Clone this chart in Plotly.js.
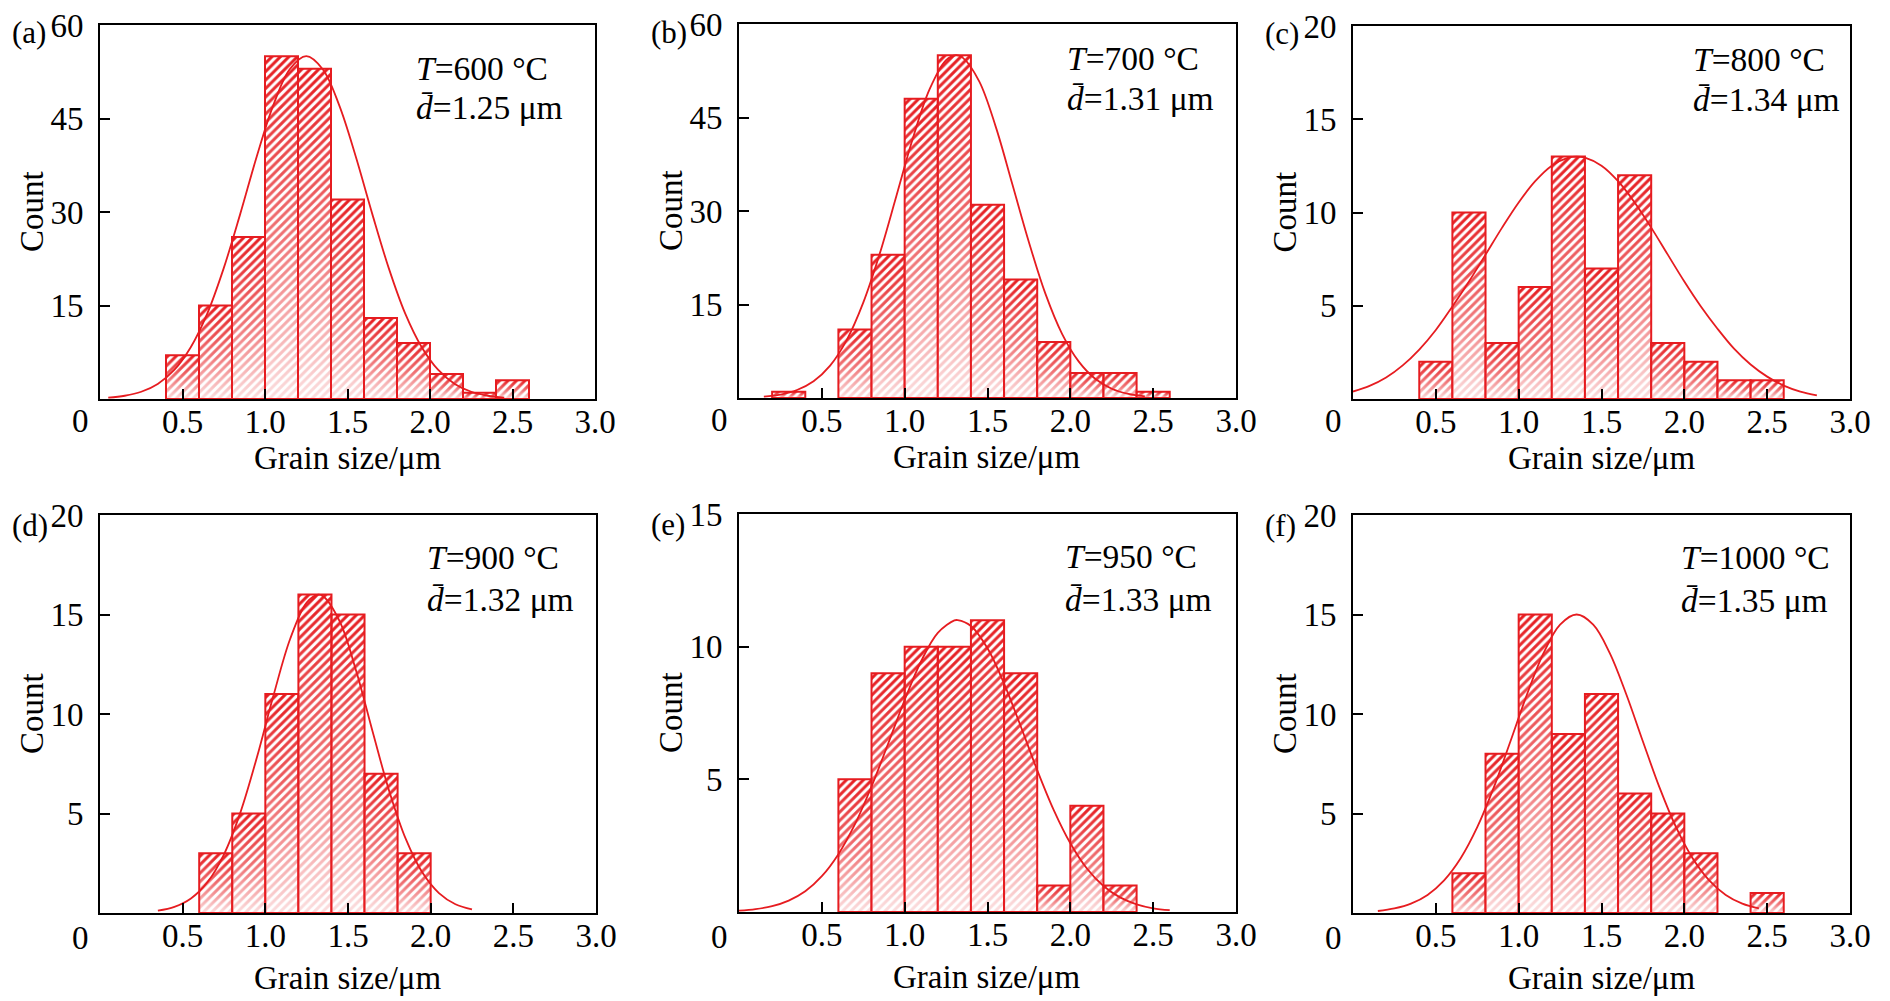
<!DOCTYPE html>
<html>
<head>
<meta charset="utf-8">
<script src="https://cdn.plot.ly/plotly-3.0.1.min.js"></script>
<style>
  html, body { margin: 0; padding: 0; background: #fff; }
  #chart { width: 1890px; height: 1001px; }
</style>
</head>
<body>
<div id="chart"></div>
<script>
// Left edges of the 0.2 um bins (shared by all six panels)
const binStarts = [0.2, 0.4, 0.6, 0.8, 1.0, 1.2, 1.4, 1.6, 1.8, 2.0, 2.2, 2.4];
const binWidth = 0.2;

// Counts per bin
const countsA = [0, 7, 15, 26, 55, 53, 32, 13, 9, 4, 1, 3];
const countsB = [1, 0, 11, 23, 48, 55, 31, 19, 9, 4, 4, 1];
const countsC = [0, 2, 10, 3, 6, 13, 7, 12, 3, 2, 1, 1];
const countsD = [0, 0, 3, 5, 11, 16, 15, 7, 3, 0, 0, 0];
const countsE = [0, 0, 5, 9, 10, 10, 11, 9, 1, 4, 1, 0];
const countsF = [0, 0, 2, 8, 15, 9, 11, 6, 5, 3, 0, 1];

// Fitted distribution curves
const fitXA = [0.05, 0.15, 0.25, 0.35, 0.45, 0.55, 0.65, 0.75, 0.85, 0.95, 1.05, 1.15, 1.25, 1.35, 1.45, 1.55, 1.65, 1.75, 1.85, 1.95, 2.05, 2.15, 2.25, 2.35, 2.45];
const fitYA = [0.21, 0.52, 1.16, 2.42, 4.66, 8.31, 13.7, 21.0, 29.7, 38.9, 47.1, 52.9, 55, 52.9, 47.1, 38.9, 29.7, 21.0, 13.7, 8.31, 4.66, 2.42, 1.16, 0.52, 0.21];
const fitXB = [0.15, 0.25, 0.35, 0.45, 0.55, 0.65, 0.75, 0.85, 0.95, 1.05, 1.15, 1.25, 1.31, 1.35, 1.45, 1.55, 1.65, 1.75, 1.85, 1.95, 2.05, 2.15, 2.25, 2.35, 2.45];
const fitYB = [0.23, 0.56, 1.28, 2.69, 5.2, 9.29, 15.3, 23.2, 32.4, 41.7, 49.5, 54.2, 55, 54.6, 50.8, 43.5, 34.3, 25.0, 16.7, 10.3, 5.88, 3.09, 1.49, 0.66, 0.27];
const fitXC = [0.0, 0.1, 0.2, 0.3, 0.4, 0.5, 0.6, 0.7, 0.8, 0.9, 1.0, 1.1, 1.2, 1.3, 1.35, 1.4, 1.5, 1.6, 1.7, 1.8, 1.9, 2.0, 2.1, 2.2, 2.3, 2.4, 2.5, 2.6, 2.7, 2.8];
const fitYC = [0.4, 0.7, 1.15, 1.8, 2.65, 3.7, 4.96, 6.3, 7.74, 9.19, 10.54, 11.68, 12.51, 12.94, 13, 12.94, 12.51, 11.68, 10.54, 9.19, 7.74, 6.3, 4.96, 3.77, 2.7, 1.85, 1.2, 0.72, 0.4, 0.2];
const fitXD = [0.35, 0.45, 0.55, 0.65, 0.75, 0.85, 0.95, 1.05, 1.15, 1.25, 1.32, 1.35, 1.45, 1.55, 1.65, 1.75, 1.85, 1.95, 2.05, 2.15, 2.25];
const fitYD = [0.12, 0.31, 0.73, 1.55, 2.95, 5.07, 7.85, 10.95, 13.77, 15.6, 16, 15.92, 14.65, 12.15, 9.08, 6.11, 3.71, 2.03, 1.0, 0.44, 0.18];
const fitXE = [0.0, 0.1, 0.2, 0.3, 0.4, 0.5, 0.6, 0.7, 0.8, 0.9, 1.0, 1.1, 1.2, 1.3, 1.32, 1.4, 1.5, 1.6, 1.7, 1.8, 1.9, 2.0, 2.1, 2.2, 2.3, 2.4, 2.5, 2.6];
const fitYE = [0.05, 0.11, 0.22, 0.43, 0.78, 1.35, 2.18, 3.31, 4.73, 6.34, 7.99, 9.46, 10.52, 10.99, 11, 10.78, 9.94, 8.61, 7.01, 5.35, 3.84, 2.59, 1.64, 0.98, 0.55, 0.29, 0.14, 0.07];
const fitXF = [0.15, 0.25, 0.35, 0.45, 0.55, 0.65, 0.75, 0.85, 0.95, 1.05, 1.15, 1.25, 1.35, 1.45, 1.55, 1.65, 1.75, 1.85, 1.95, 2.05, 2.15, 2.25, 2.35, 2.45];
const fitYF = [0.1, 0.23, 0.47, 0.91, 1.64, 2.75, 4.31, 6.31, 8.62, 10.98, 13.06, 14.49, 15, 14.49, 13.06, 10.98, 8.62, 6.31, 4.31, 2.75, 1.64, 0.91, 0.47, 0.23];

// Panel text
const panelLetters = ["(a)", "(b)", "(c)", "(d)", "(e)", "(f)"];
const temperatures = ["600", "700", "800", "900", "950", "1000"];
const meanSizes = ["1.25", "1.31", "1.34", "1.32", "1.33", "1.35"];

// Axis scales and tick labels
const yMax = [60, 60, 20, 20, 15, 20];
const yTicks = [[15, 30, 45, 60], [15, 30, 45, 60], [5, 10, 15, 20], [5, 10, 15, 20], [5, 10, 15], [5, 10, 15, 20]];
const xTickVals = [0.5, 1.0, 1.5, 2.0, 2.5, 3.0];
const xTickText = ["0.5", "1.0", "1.5", "2.0", "2.5", "3.0"];

const allCounts = [countsA, countsB, countsC, countsD, countsE, countsF];
const allFitX = [fitXA, fitXB, fitXC, fitXD, fitXE, fitXF];
const allFitY = [fitYA, fitYB, fitYC, fitYD, fitYE, fitYF];

// Frame of each panel in page pixels
const frames = [
  { l: 100, r: 595, t: 25, b: 399 },
  { l: 739, r: 1236, t: 24, b: 398 },
  { l: 1353, r: 1850, t: 26, b: 399 },
  { l: 100, r: 596, t: 515, b: 913 },
  { l: 739, r: 1236, t: 514, b: 912 },
  { l: 1353, r: 1850, t: 515, b: 913 },
];
const textSpots = [
  { x: 414, y1: 68, y2: 107 },
  { x: 1065, y1: 58, y2: 99 },
  { x: 1691, y1: 59, y2: 100 },
  { x: 425, y1: 557, y2: 599 },
  { x: 1063, y1: 556, y2: 599 },
  { x: 1679, y1: 557, y2: 600 },
];

const W = 1890, H = 1001;
const RED = "rgb(230, 28, 32)";
const FONT = "Liberation Serif, Times New Roman, serif";
const px = (x) => x / W;
const py = (y) => 1 - y / H;

const traces = [];
const layout = {
  width: W,
  height: H,
  margin: { l: 0, r: 0, t: 0, b: 0 },
  paper_bgcolor: "#fff",
  plot_bgcolor: "#fff",
  showlegend: false,
  font: { family: FONT, color: "#000", size: 30 },
  annotations: [],
};

function note(text, x, y, size, opts) {
  layout.annotations.push(Object.assign({
    text: text, x: px(x), y: py(y), xref: "paper", yref: "paper",
    showarrow: false, xanchor: "center", yanchor: "middle",
    font: { family: FONT, size: size, color: "#000" },
  }, opts || {}));
}

allCounts.forEach((counts, i) => {
  const n = i + 1;
  const xa = "x" + n, ya = "y" + n;
  const f = frames[i];

  // Hatched bars
  traces.push({
    type: "bar",
    x: binStarts.map((s) => s + binWidth / 2),
    y: counts,
    width: binWidth,
    xaxis: xa, yaxis: ya,
    marker: {
      color: "#fff",
      pattern: { shape: "/", fgcolor: RED, bgcolor: "#fff", size: 6, solidity: 0.5 },
      line: { width: 0 },
    },
    hoverinfo: "skip",
  });

  // Fading overlay + outline per bar
  binStarts.forEach((s, k) => {
    const c = counts[k];
    if (!c) return;
    traces.push({
      type: "scatter", mode: "lines",
      x: [s, s, s + binWidth, s + binWidth, s],
      y: [0, c, c, 0, 0],
      fill: "toself",
      fillgradient: {
        type: "vertical",
        colorscale: [[0, "rgba(255,255,255,0.86)"], [0.45, "rgba(255,255,255,0.4)"], [1, "rgba(255,255,255,0)"]],
      },
      line: { color: RED, width: 2 },
      xaxis: xa, yaxis: ya,
      hoverinfo: "skip",
    });
  });

  // Fitted curve
  traces.push({
    type: "scatter", mode: "lines",
    x: allFitX[i], y: allFitY[i],
    line: { color: RED, width: 1.8, shape: "spline" },
    xaxis: xa, yaxis: ya,
    hoverinfo: "skip",
  });

  const common = {
    showline: true, linecolor: "#000", linewidth: 2, mirror: true,
    ticks: "inside", ticklen: 10, tickwidth: 2, tickcolor: "#000",
    showgrid: false, zeroline: false, fixedrange: true,
    tickfont: { family: FONT, size: 33, color: "#000" },
  };
  layout["xaxis" + n] = Object.assign({}, common, {
    domain: [px(f.l), px(f.r)],
    anchor: ya,
    range: [0, 3],
    tickmode: "array", tickvals: xTickVals, ticktext: xTickText,
    ticklabelstandoff: -8,
  });
  layout["yaxis" + n] = Object.assign({}, common, {
    domain: [py(f.b), py(f.t)],
    anchor: xa,
    range: [0, yMax[i]],
    tickmode: "array", tickvals: yTicks[i],
    ticklabelstandoff: 8,
  });

  const row2 = i >= 3;
  note("0", f.l - 20, f.b + (row2 ? 25 : 22), 33);
  note("Grain size/μm", (f.l + f.r) / 2, f.b + (row2 ? 65 : 59), 33);
  note("Count", f.l - 68, (f.t + f.b) / 2, 33, { textangle: -90 });
  note(panelLetters[i], f.l - 90, f.t + (row2 ? 10 : 8), 31, { xanchor: "left" });

  const t = textSpots[i];
  note("<i>T</i>=" + temperatures[i] + " °C", t.x, t.y1, 33.5, { xanchor: "left" });
  note("<i>d\u0304</i>=" + meanSizes[i] + " μm", t.x, t.y2, 33.5, { xanchor: "left" });
});

Plotly.newPlot("chart", traces, layout, { staticPlot: true, displayModeBar: false });
</script>
</body>
</html>
